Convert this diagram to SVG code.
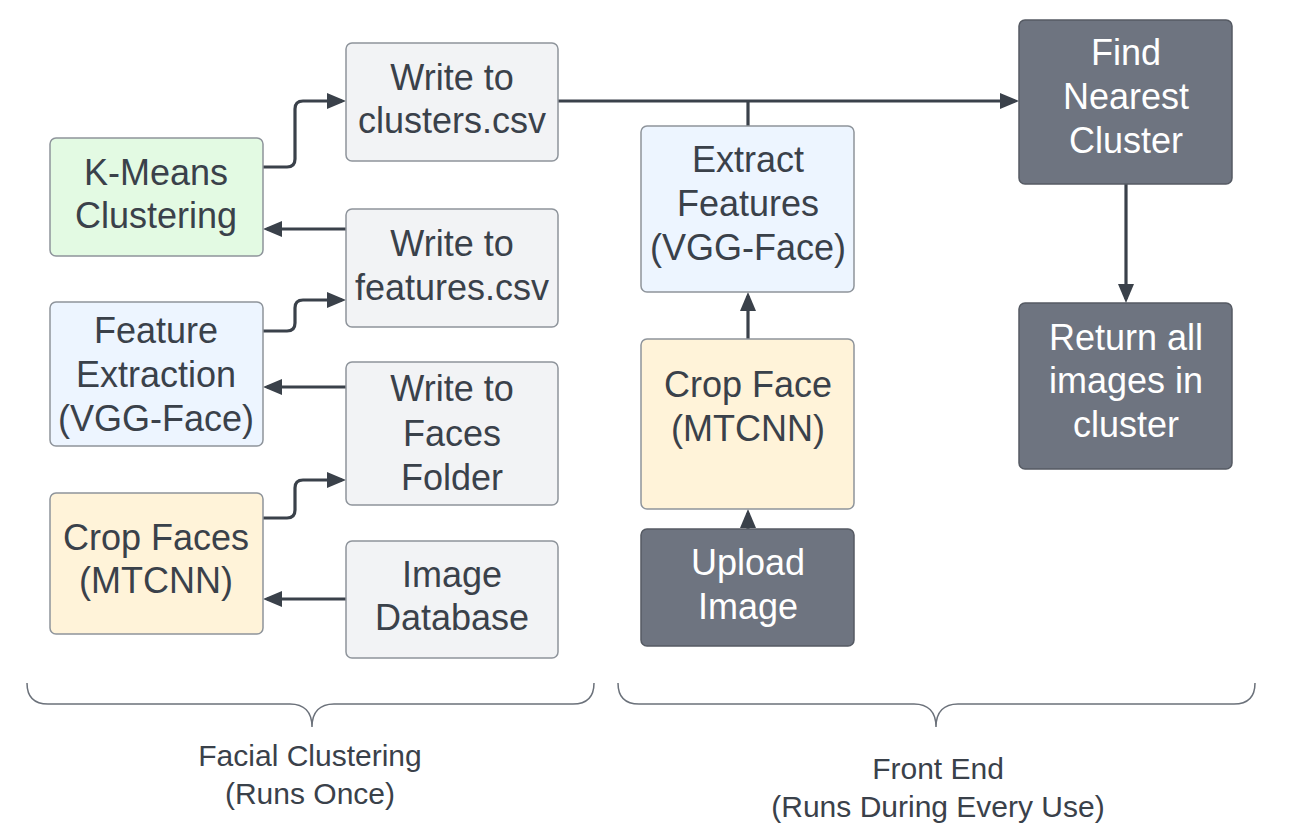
<svg xmlns="http://www.w3.org/2000/svg" width="1298" height="833" viewBox="0 0 1298 833">
<style>
.box{stroke:#8e949b;stroke-width:1.5}
.g{fill:#e3fae3}
.b{fill:#edf5ff}
.y{fill:#fff3d9}
.w{fill:#f2f3f5}
.d{fill:#6e7480;stroke:#555a63;stroke-width:1.5}
text{font-family:"Liberation Sans",Arial,sans-serif;font-size:36px;text-anchor:middle;fill:#3a414a}
.dt{fill:#ffffff}
.lbl{font-size:30px}
.conn{fill:none;stroke:#3a414a;stroke-width:3.2}
.brace{fill:none;stroke:#6b717a;stroke-width:1.5}
</style>
<defs>
<marker id="arr" markerUnits="userSpaceOnUse" markerWidth="19" markerHeight="16" refX="15" refY="8" orient="auto">
<path d="M0,0 L19,8 L0,16 z" fill="#3a414a"/>
</marker>
</defs>
<rect width="1298" height="833" fill="#ffffff"/>

<g id="connectors">
<path class="conn" marker-end="url(#arr)" d="M263,167 H287 Q295,167 295,159 V109 Q295,101 303,101 H342"/>
<path class="conn" marker-end="url(#arr)" d="M346,229 H267"/>
<path class="conn" marker-end="url(#arr)" d="M263,331 H287 Q295,331 295,323 V308 Q295,300 303,300 H342"/>
<path class="conn" marker-end="url(#arr)" d="M346,387 H267"/>
<path class="conn" marker-end="url(#arr)" d="M263,518 H287 Q295,518 295,510 V488 Q295,480 303,480 H342"/>
<path class="conn" marker-end="url(#arr)" d="M346,599 H267"/>
<path class="conn" marker-end="url(#arr)" d="M558,101 H1015"/>
<path class="conn" d="M748,126 V101"/>
<path class="conn" marker-end="url(#arr)" d="M748,339 V296"/>
<path class="conn" marker-end="url(#arr)" d="M748,529 V513"/>
<path class="conn" marker-end="url(#arr)" d="M1126,184 V299"/>
</g>

<g id="kmeans">
<rect class="box g" x="50" y="138" width="213" height="118" rx="6"/>
<text x="156" y="185">K-Means</text>
<text x="156" y="228">Clustering</text>
</g>
<g id="clusters-csv">
<rect class="box w" x="346" y="43" width="212" height="118" rx="6"/>
<text x="452" y="90">Write to</text>
<text x="452" y="133">clusters.csv</text>
</g>
<g id="features-csv">
<rect class="box w" x="346" y="209" width="212" height="118" rx="6"/>
<text x="452" y="256">Write to</text>
<text x="452" y="300">features.csv</text>
</g>
<g id="feature-extraction">
<rect class="box b" x="50" y="302" width="213" height="144" rx="6"/>
<text x="156" y="343">Feature</text>
<text x="156" y="387">Extraction</text>
<text x="156" y="431">(VGG-Face)</text>
</g>
<g id="faces-folder">
<rect class="box w" x="346" y="362" width="212" height="143" rx="6"/>
<text x="452" y="401">Write to</text>
<text x="452" y="446">Faces</text>
<text x="452" y="490">Folder</text>
</g>
<g id="crop-faces">
<rect class="box y" x="50" y="493" width="213" height="141" rx="6"/>
<text x="156" y="550">Crop Faces</text>
<text x="156" y="593">(MTCNN)</text>
</g>
<g id="image-database">
<rect class="box w" x="346" y="541" width="212" height="117" rx="6"/>
<text x="452" y="587">Image</text>
<text x="452" y="630">Database</text>
</g>
<g id="extract-features">
<rect class="box b" x="641" y="126" width="213" height="166" rx="6"/>
<text x="748" y="172">Extract</text>
<text x="748" y="216">Features</text>
<text x="748" y="260">(VGG-Face)</text>
</g>
<g id="crop-face">
<rect class="box y" x="641" y="339" width="213" height="170" rx="6"/>
<text x="748" y="397">Crop Face</text>
<text x="748" y="441">(MTCNN)</text>
</g>
<g id="upload-image">
<rect class="d" x="641" y="529" width="213" height="117" rx="6"/>
<text class="dt" x="748" y="575">Upload</text>
<text class="dt" x="748" y="619">Image</text>
</g>
<g id="find-nearest">
<rect class="d" x="1019" y="20" width="213" height="164" rx="6"/>
<text class="dt" x="1126" y="65">Find</text>
<text class="dt" x="1126" y="109">Nearest</text>
<text class="dt" x="1126" y="153">Cluster</text>
</g>
<g id="return-images">
<rect class="d" x="1019" y="303" width="213" height="166" rx="6"/>
<text class="dt" x="1126" y="350">Return all</text>
<text class="dt" x="1126" y="393">images in</text>
<text class="dt" x="1126" y="437">cluster</text>
</g>

<g id="brace-left">
<path class="brace" d="M27,683 Q27,704 48,704 H290 C304,704 312,712 312,727 C312,712 320,704 334,704 H573 Q594,704 594,683"/>
<text class="lbl" x="310" y="766">Facial Clustering</text>
<text class="lbl" x="310" y="804">(Runs Once)</text>
</g>
<g id="brace-right">
<path class="brace" d="M618,683 Q618,704 639,704 H914 C928,704 936,712 936,727 C936,712 944,704 958,704 H1234 Q1255,704 1255,683"/>
<text class="lbl" x="938" y="779">Front End</text>
<text class="lbl" x="938" y="817">(Runs During Every Use)</text>
</g>
</svg>
